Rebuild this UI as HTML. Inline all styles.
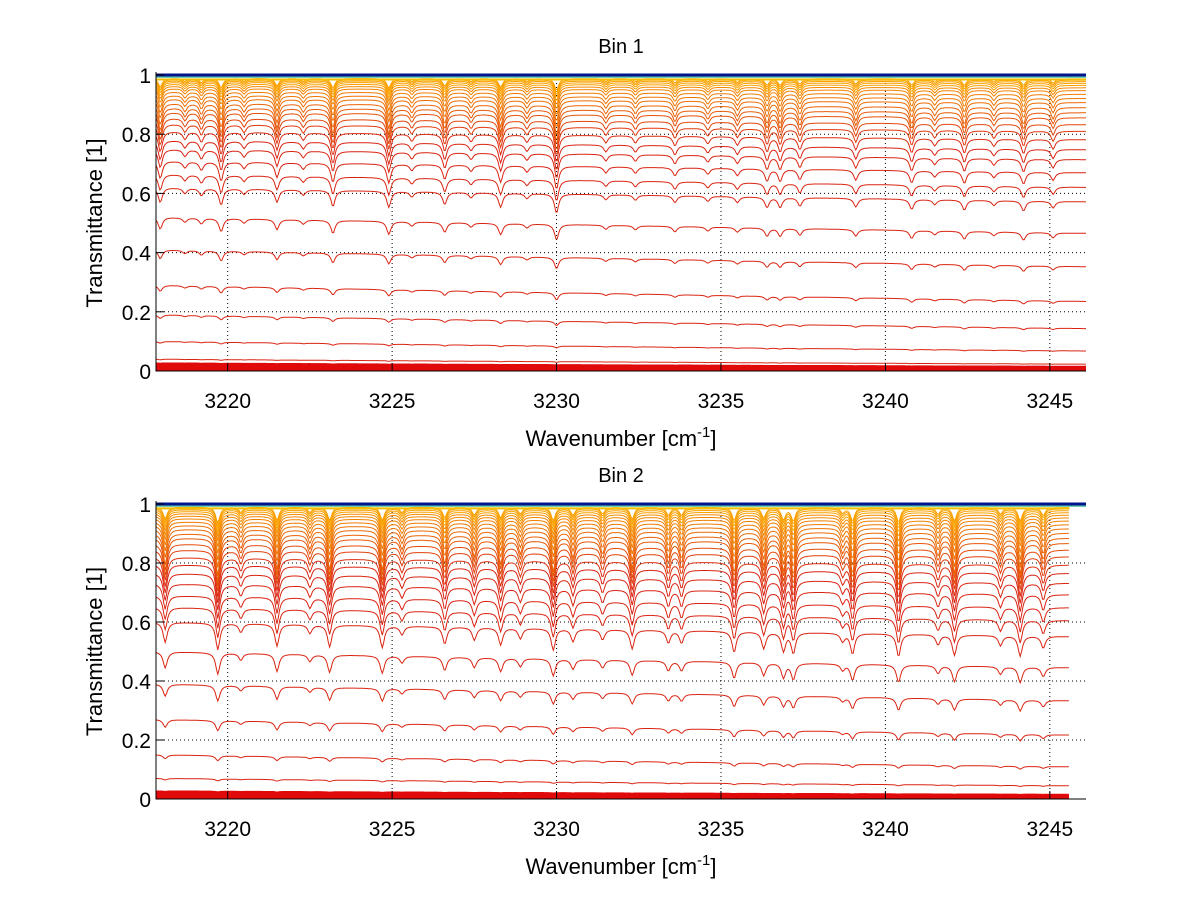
<!DOCTYPE html>
<html><head><meta charset="utf-8">
<style>
html,body{margin:0;padding:0;background:#fff;}
svg{display:block;font-family:"Liberation Sans",sans-serif;}
</style></head>
<body>
<svg id="chart" width="1200" height="901" viewBox="0 0 1200 901">
<rect width="1200" height="901" fill="#fff"/>
</svg>
<script>
// ---- data ----
const xTicks = [3220, 3225, 3230, 3235, 3240, 3245];
const yTicks = [0, 0.2, 0.4, 0.6, 0.8, 1];
const yTickLabels = ["0", "0.2", "0.4", "0.6", "0.8", "1"];
// baseline transmittance at left edge for each curve
const levels1 = [0.006,0.012,0.018,0.025,0.04,0.1,0.19,0.29,0.41,0.52,0.62,0.665,0.71,0.75,0.78,0.81,0.835,0.855,0.875,0.89,0.905,0.92,0.932,0.944,0.955,0.963,0.97,0.976,0.981,0.985,0.989];
const levels2 = [0.006,0.012,0.018,0.025,0.07,0.15,0.27,0.39,0.5,0.6,0.65,0.69,0.73,0.765,0.795,0.82,0.845,0.865,0.885,0.9,0.915,0.928,0.94,0.951,0.96,0.968,0.975,0.981,0.986,0.99];
// absorption line centres (cm^-1) and strengths
const lines1 = [3217.95,3218.7,3219.2,3219.8,3220.5,3221.5,3222.3,3223.2,3224.9,3225.6,3226.6,3227.4,3228.3,3229.1,3230.0,3231.5,3232.4,3233.6,3234.6,3235.5,3236.4,3236.8,3237.4,3239.1,3240.8,3241.5,3242.4,3243.3,3244.2,3245.1];
const strengths1 = [0.8,0.3,0.4,0.9,0.3,0.7,0.3,0.9,0.9,0.3,0.7,0.3,0.8,0.3,1.1,0.3,0.3,0.4,0.3,0.35,0.6,0.6,0.5,0.5,0.6,0.3,0.6,0.3,0.6,0.4];
const lines2 = [3218.1,3219.7,3220.4,3221.5,3222.5,3223.1,3224.7,3225.3,3226.6,3227.5,3228.3,3228.9,3229.9,3230.5,3231.4,3232.3,3233.4,3233.8,3235.4,3236.3,3236.9,3237.2,3238.7,3239.0,3240.4,3241.6,3242.1,3243.5,3244.1,3244.8];
const strengths2 = [0.9,1.2,0.4,1.0,0.4,1.0,1.0,0.4,0.8,0.6,0.8,0.5,1.0,0.6,0.5,0.9,0.6,0.6,1.0,0.8,0.9,1.0,0.4,1.0,1.1,0.5,1.0,0.5,1.0,0.6];
const wnMin = 3217.82, wnMax = 3246.1;
const dataEnd1 = 3246.1, dataEnd2 = 3245.6;

const NS = "http://www.w3.org/2000/svg";
const svg = document.getElementById('chart');
function mk(tag, attrs, parent){const e=document.createElementNS(NS,tag);for(const k in attrs)e.setAttribute(k,attrs[k]);(parent||svg).appendChild(e);return e;}

function color(T){
  if(T<0.8) return 'rgb(218,36,18)';
  if(T<0.97){const f=(T-0.8)/0.17;return `rgb(${Math.round(218+27*f)},${Math.round(36+104*f)},${Math.round(18-18*f)})`;}
  return 'rgb(250,160,0)';
}

function drawPanel(opt){
  const {top,bottom,left,right,title,levels,lines,strengths,dataEnd,gain,pfx}=opt;
  const g=mk('g',{});
  
  
  const xs=v=>left+(v-wnMin)/(wnMax-wnMin)*(right-left);
  const ys=v=>bottom-v*(bottom-top);
  xTicks.forEach(t=>{const l=mk('line',{x1:xs(t),x2:xs(t),y1:top,y2:bottom,stroke:'#000','stroke-width':1,'stroke-dasharray':'1,3'},g);});
  yTicks.forEach(t=>{const l=mk('line',{x1:left,x2:right,y1:ys(t),y2:ys(t),stroke:'#000','stroke-width':1,'stroke-dasharray':'1,3'},g);});
  const step=0.04;
  levels.forEach((L,i)=>{
    let d='';
    for(let w=wnMin;w<=dataEnd+1e-9;w+=step){
      const frac=(w-wnMin)/(wnMax-wnMin);
      let base=Math.exp(Math.log(L)*(1+0.17*frac));
      let prof=0;
      for(let j=0;j<lines.length;j++){const u=(w-lines[j])/0.075;prof+=strengths[j]/(1+u*u);}
      const damp=Math.min(1,(1-base)*7+0.25);
      let T=base-gain*Math.pow(base,1.2)*prof*damp;
      T=Math.max(0.002,Math.min(1,T));
      d+=(d?'L':'M')+xs(w).toFixed(1)+','+ys(T).toFixed(1);
    }
    const p=mk('path',{d,fill:'none',stroke:L<0.03?'rgb(225,10,10)':color(L),'stroke-width':L<0.03?2.5:1},g);
    
    
  });
  const ly=mk('line',{x1:left,x2:xs(dataEnd),y1:ys(0.985),y2:ys(0.985),stroke:'rgb(245,190,0)','stroke-width':2},g);
  
  const lg=mk('line',{x1:left,x2:right,y1:ys(0.993),y2:ys(0.993),stroke:'rgb(90,200,170)','stroke-width':1.5},g);
  
  const lb=mk('line',{x1:left,x2:right,y1:ys(1),y2:ys(1),stroke:'rgb(0,20,140)','stroke-width':3},g);
  
  const ax=mk('path',{d:`M${left},${top-3}V${bottom}H${right}`,fill:'none',stroke:'#000','stroke-width':1},g);
  
  xTicks.forEach(t=>{
    mk('line',{x1:xs(t),x2:xs(t),y1:bottom,y2:bottom-8,stroke:'#000'},g);
    const tx=mk('text',{x:xs(t),y:bottom+37,'text-anchor':'middle','font-size':21},g);
    tx.textContent=t;
  });
  yTicks.forEach((t,i)=>{
    mk('line',{x1:left,x2:left+8,y1:ys(t),y2:ys(t),stroke:'#000'},g);
    const tx=mk('text',{x:left-5,y:ys(t)+8,'text-anchor':'end','font-size':21},g);
    tx.textContent=yTickLabels[i];
  });
  const tt=mk('text',{x:(left+right)/2,y:top-22,'text-anchor':'middle','font-size':20},g);
  tt.textContent=title;
  const yl=mk('text',{x:0,y:0,'text-anchor':'middle','font-size':22,transform:`translate(102,${(top+bottom)/2}) rotate(-90)`},g);
  yl.textContent='Transmittance [1]';
  const xl=mk('text',{x:(left+right)/2,y:bottom+75,'text-anchor':'middle','font-size':22},g);
  xl.innerHTML='Wavenumber [cm<tspan dy="-9" font-size="15">-1</tspan><tspan dy="9">]</tspan>';
  
}
drawPanel({top:75,bottom:371,left:156,right:1086,title:'Bin 1',levels:levels1,lines:lines1,strengths:strengths1,dataEnd:dataEnd1,gain:0.11,pfx:'bin1'});
drawPanel({top:504,bottom:799,left:156,right:1086,title:'Bin 2',levels:levels2,lines:lines2,strengths:strengths2,dataEnd:dataEnd2,gain:0.14,pfx:'bin2'});
</script>
</body></html>
